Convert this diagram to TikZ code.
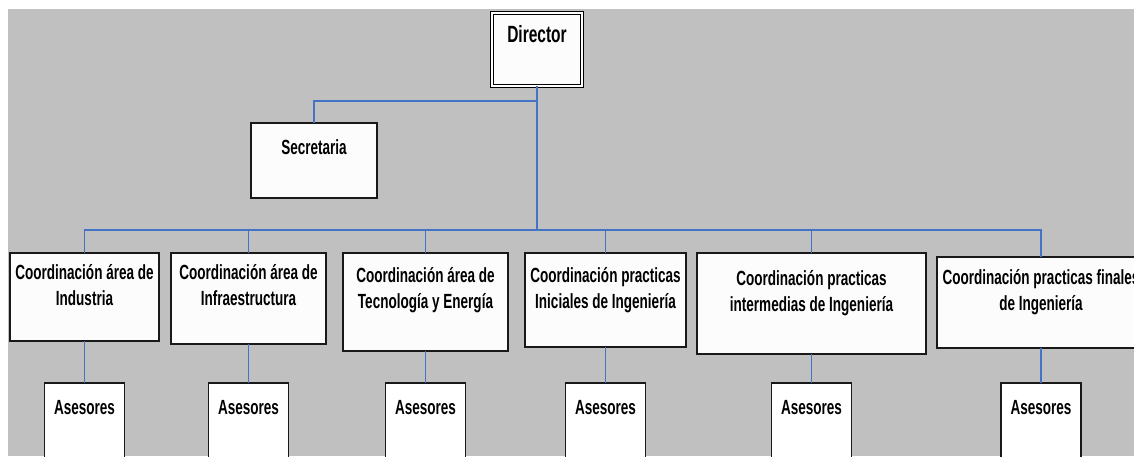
\documentclass[tikz,border=0pt]{standalone}
\usepackage{fontspec}
\newfontfamily\cf{Liberation Sans}[FakeStretch=0.66]
\definecolor{bg}{RGB}{192,192,192}
\definecolor{conn}{RGB}{68,114,196}
\definecolor{boxfill}{RGB}{252,252,252}
\newcommand\mystrut{\rule{0pt}{20pt}}
\begin{document}
\begin{tikzpicture}[x=1pt,y=-1pt,
  box/.style={draw=black!90, line width=1.2pt, fill=boxfill, inner sep=0pt, outer sep=0pt, anchor=north west},
  abox/.style={draw=black!90, line width=1.2pt, fill=white, inner sep=0pt, outer sep=0pt, anchor=north, minimum width=80pt, minimum height=95pt},
  txt/.style={font=\cf\bfseries\fontsize{20.5}{26}\selectfont, align=center, inner sep=0pt, anchor=north},
  bigtxt/.style={font=\cf\bfseries\fontsize{23.5}{28}\selectfont, align=center, inner sep=0pt, anchor=north},
  trunk/.style={draw=conn, line width=2pt},
  buswire/.style={draw=conn, line width=1.6pt},
  drop/.style={draw=conn, line width=1.3pt}]

\useasboundingbox (0,0) rectangle (1134,456);
\fill[white] (0,0) rectangle (1134,456);
\fill[bg] (8,9) rectangle (1134,456);

% coordinates of junctions
\coordinate (sj) at (537,101);
\coordinate (bus) at (537,230);

% boxes
\node[box, draw=black, line width=0.9pt, double=white, double distance=1.3pt, minimum width=90pt, minimum height=73pt] (dir) at (492,13) {};
\node[box, minimum width=126pt, minimum height=75pt] (sec) at (251,123) {};

\node[box, minimum width=149pt, minimum height=88pt] (c1) at (10,253) {};
\node[box, minimum width=155pt, minimum height=91pt] (c2) at (171,253) {};
\node[box, minimum width=165pt, minimum height=98pt] (c3) at (343,253) {};
\node[box, minimum width=161pt, minimum height=94pt] (c4) at (525,253) {};
\node[box, minimum width=229pt, minimum height=101pt] (c5) at (697,253) {};
\node[box, minimum width=208pt, minimum height=91pt] (c6) at (937,257) {};

\foreach \i in {1,...,6} {
  \node[abox] (a\i) at (c\i.south |- 0,383) {};
}

% connectors
\draw[trunk] (dir.south) -- (bus);
\draw[trunk] (sj) -| (sec.north);
\draw[buswire] (c1.north) -- (c1.north |- bus) -- (c6.north |- bus) -- (c6.north);
\foreach \i in {2,...,5} {
  \draw[drop] (c\i.north) -- (c\i.north |- bus);
}
\foreach \i in {1,...,6} {
  \draw[drop] (c\i.south) -- (a\i.north);
}

% texts
\node[bigtxt] (tdir) at ([yshift=-9pt]dir.north) {\mystrut Director};
\node[txt] (tsec) at ([yshift=-11pt]sec.north) {\mystrut Secretaria};
\node[txt] (t1) at ([yshift=-6pt]c1.north) {\mystrut Coordinación área de\\Industria};
\node[txt] (t2) at ([yshift=-6pt]c2.north) {\mystrut Coordinación área de\\Infraestructura};
\node[txt] (t3) at ([yshift=-9pt]c3.north) {\mystrut Coordinación área de\\Tecnología y Energía};
\node[txt] (t4) at ([yshift=-9pt]c4.north) {\mystrut Coordinación practicas\\Iniciales de Ingeniería};
\node[txt] (t5) at ([yshift=-12pt]c5.north) {\mystrut Coordinación practicas\\intermedias de Ingeniería};
\node[txt] (t6) at ([yshift=-7pt]c6.north) {\mystrut Coordinación practicas finales\\de Ingeniería};
\foreach \i in {1,...,6} {
  \node[txt] (ta\i) at ([yshift=-11pt]a\i.north) {\mystrut Asesores};
}
\end{tikzpicture}
\end{document}
